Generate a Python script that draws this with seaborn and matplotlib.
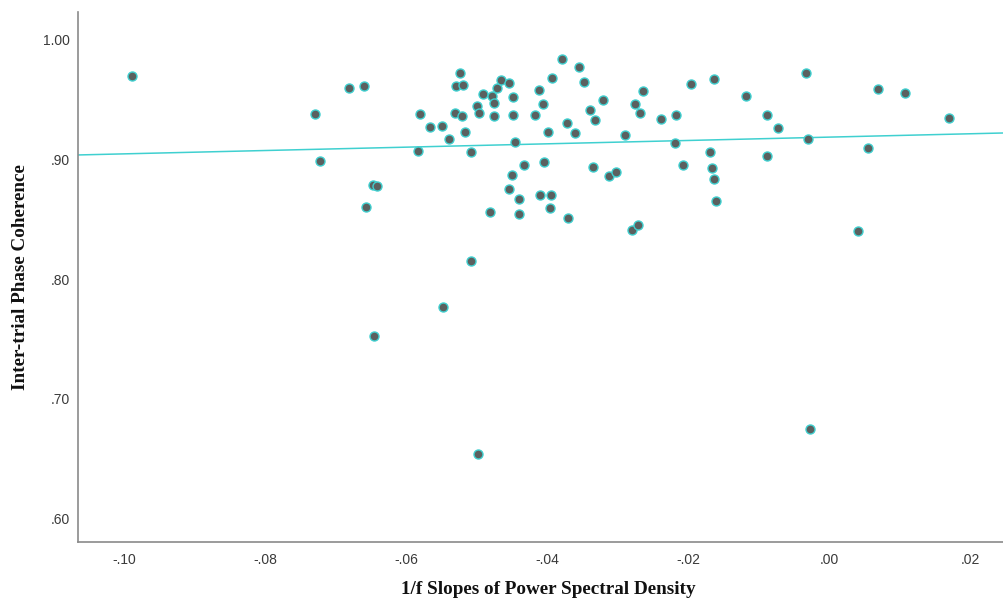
import matplotlib
matplotlib.use("Agg")
import matplotlib.pyplot as plt
import seaborn as sns
import pandas as pd

# 1/f slopes (x) and inter-trial phase coherence (y)
slopes = [
    -0.0989, -0.0729, -0.0722, -0.0681, -0.0660, -0.0647, -0.0641, -0.0657, -0.0645, -0.0580,
    -0.0583, -0.0566, -0.0549, -0.0548, -0.0539, -0.0523, -0.0529, -0.0519, -0.0530, -0.0521,
    -0.0516, -0.0508, -0.0508, -0.0499, -0.0496, -0.0498, -0.0491, -0.0481, -0.0478, -0.0475,
    -0.0475, -0.0471, -0.0465, -0.0454, -0.0448, -0.0448, -0.0445, -0.0454, -0.0450, -0.0440,
    -0.0440, -0.0433, -0.0417, -0.0411, -0.0406, -0.0404, -0.0410, -0.0399, -0.0394, -0.0396,
    -0.0393, -0.0379, -0.0372, -0.0370, -0.0360, -0.0355, -0.0348, -0.0339, -0.0335, -0.0332,
    -0.0321, -0.0312, -0.0302, -0.0289, -0.0279, -0.0271, -0.0275, -0.0268, -0.0264, -0.0238,
    -0.0217, -0.0218, -0.0207, -0.0196, -0.0163, -0.0169, -0.0166, -0.0163, -0.0160, -0.0118,
    -0.0088, -0.0072, -0.0088, -0.0033, -0.0030, -0.0027, 0.0041, 0.0055, 0.0070, 0.0108,
    0.0170,
]
itpc = [
    0.9699, 0.9381, 0.8987, 0.9598, 0.9615, 0.8787, 0.8778, 0.8603, 0.7523, 0.9381,
    0.9071, 0.9272, 0.9280, 0.7766, 0.9172, 0.9724, 0.9615, 0.9623, 0.9389, 0.9364,
    0.9230, 0.9063, 0.8151, 0.9448, 0.9389, 0.6536, 0.9548, 0.8561, 0.9531, 0.9473,
    0.9364, 0.9598, 0.9665, 0.9640, 0.9523, 0.9372, 0.9146, 0.8753, 0.8870, 0.8669,
    0.8544, 0.8954, 0.9372, 0.9582, 0.9464, 0.8979, 0.8703, 0.9230, 0.8703, 0.8594,
    0.9682, 0.9841, 0.9305, 0.8510, 0.9222, 0.9774, 0.9649, 0.9414, 0.8937, 0.9331,
    0.9498, 0.8862, 0.8895, 0.9205, 0.8410, 0.8452, 0.9464, 0.9389, 0.9573, 0.9339,
    0.9372, 0.9138, 0.8954, 0.9632, 0.9674, 0.9063, 0.8929, 0.8837, 0.8653, 0.9531,
    0.9372, 0.9264, 0.9029, 0.9724, 0.9172, 0.6745, 0.8402, 0.9096, 0.9590, 0.9556,
    0.9347,
]

# fit line as drawn in the reference (read at its two ends)
fit_x = [-0.1065, 0.0248]
fit_y = [0.9038, 0.9222]

x_ticks = [-0.10, -0.08, -0.06, -0.04, -0.02, 0.00, 0.02]
x_tick_labels = ["-.10", "-.08", "-.06", "-.04", "-.02", ".00", ".02"]
y_ticks = [0.60, 0.70, 0.80, 0.90, 1.00]
y_tick_labels = [".60", ".70", ".80", ".90", "1.00"]

df = pd.DataFrame({"slope": slopes, "itpc": itpc})
fit_df = pd.DataFrame({"slope": fit_x, "itpc": fit_y})

sns.set_style("white")
fig = plt.figure(figsize=(10.04, 6.04), dpi=100)
ax = fig.add_axes([78 / 1004, 62 / 604, 926 / 1004, 530 / 604])

sns.lineplot(data=fit_df, x="slope", y="itpc", ax=ax, color="#3fd0d0", lw=1.1, zorder=2)
sns.scatterplot(data=df, x="slope", y="itpc", ax=ax, s=42, color="#5b605f",
                edgecolor="#3fcfcf", linewidth=1.0, alpha=1, zorder=3)

ax.set_xlim(-0.1065, 0.0248)
ax.set_ylim(0.580, 1.0234)

ax.set_xticks(x_ticks)
ax.set_xticklabels(x_tick_labels)
ax.set_yticks(y_ticks)
ax.set_yticklabels(y_tick_labels)
for lab in ax.get_xticklabels() + ax.get_yticklabels():
    lab.set_family("Liberation Sans")
    lab.set_fontsize(10)
    lab.set_color("#3a3a3a")
ax.tick_params(axis="x", length=0, pad=8)
ax.tick_params(axis="y", length=0, pad=6)

for side in ["top", "right"]:
    ax.spines[side].set_visible(False)
for side in ["left", "bottom"]:
    ax.spines[side].set_color("#8a8a8a")
    ax.spines[side].set_linewidth(1.2)

ax.set_xlabel("1/f Slopes of Power Spectral Density", family="Liberation Serif",
              fontweight="bold", fontsize=13.8, color="#111111")
ax.xaxis.set_label_coords((548 - 78) / 926, -(590 - 542) / 530)
ax.xaxis.label.set_va("center")
ax.set_ylabel("Inter-trial Phase Coherence", family="Liberation Serif",
              fontweight="bold", fontsize=13.8, color="#111111", labelpad=10)

fig.savefig("out.png", dpi=100)
